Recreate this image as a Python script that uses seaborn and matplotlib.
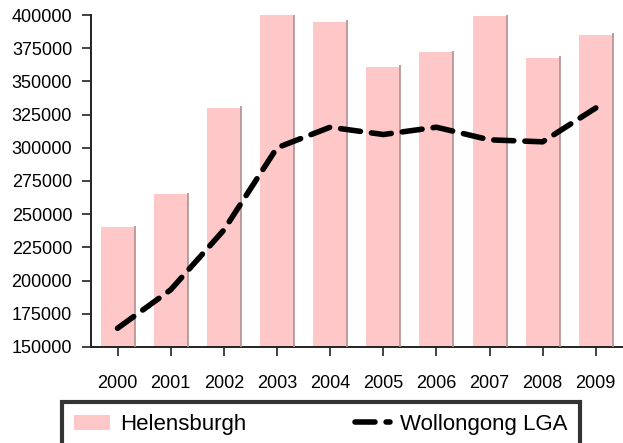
import matplotlib
matplotlib.use("Agg")
import matplotlib.pyplot as plt
import seaborn as sns
import pandas as pd

# data
years = ["2000", "2001", "2002", "2003", "2004", "2005", "2006", "2007", "2008", "2009"]
helensburgh = [240000, 265000, 330000, 400000, 395000, 361000, 372000, 399000, 368000, 385000]
wollongong = [164000, 193000, 238000, 300000, 315500, 310000, 315500, 306000, 304500, 330000]
y_ticks = [150000, 175000, 200000, 225000, 250000, 275000, 300000, 325000, 350000, 375000, 400000]

df = pd.DataFrame({"year": years, "Helensburgh": helensburgh, "Wollongong LGA": wollongong})

sns.set_style("white")
plt.rcParams["font.family"] = ["Liberation Sans", "DejaVu Sans"]
plt.rcParams["text.color"] = "black"
plt.rcParams["xtick.color"] = "black"
plt.rcParams["ytick.color"] = "black"

fig = plt.figure(figsize=(6.23, 4.43), dpi=100)
ax = fig.add_axes([0.146, 0.217, 0.853, 0.749])

sns.barplot(data=df, x="year", y="Helensburgh", color="#ffc8c8", saturation=1,
            width=0.64, ax=ax, label="Helensburgh", edgecolor="none")

# thin shadow on the right side of each bar
for p in ax.patches:
    ax.vlines(p.get_x() + p.get_width(), 150000, p.get_height() + 1200,
              color="#b09090", lw=1.2, zorder=3)

sns.lineplot(data=df, x="year", y="Wollongong LGA", color="black", lw=4,
             ax=ax, label="Wollongong LGA", zorder=4)
line = ax.lines[-1]
line.set_linestyle((0, (3.6, 2.0)))
line.set_dash_capstyle("round")

ax.set_ylim(150000, 400000)
ax.set_xlim(-0.5, 9.5)
ax.set_yticks(y_ticks)
ax.set_xlabel("")
ax.set_ylabel("")
sns.despine(ax=ax)
for s in ["left", "bottom"]:
    ax.spines[s].set_color("#222222")
    ax.spines[s].set_linewidth(1.4)
ax.tick_params(axis="y", direction="out", length=6.5, width=1.2, color="#222222",
               labelsize=13, pad=7, left=True)
ax.tick_params(axis="x", direction="out", length=6.5, width=1.2, color="#222222",
               labelsize=13, pad=14, bottom=True)

if ax.legend_:
    ax.legend_.remove()
handles, labels = ax.get_legend_handles_labels()
order = [labels.index("Helensburgh"), labels.index("Wollongong LGA")]
leg = fig.legend([handles[i] for i in order], [labels[i] for i in order],
                 loc="upper left", ncol=2,
                 bbox_to_anchor=(62 / 623, 1 - 402 / 443, 518 / 623, 0), mode="expand",
                 fontsize=16, frameon=True, fancybox=False, borderaxespad=0,
                 handlelength=1.6, handletextpad=0.45, columnspacing=3.7,
                 borderpad=0.55)
leg.get_frame().set_edgecolor("black")
leg.get_frame().set_linewidth(3)

fig.savefig("out.png", dpi=100)
